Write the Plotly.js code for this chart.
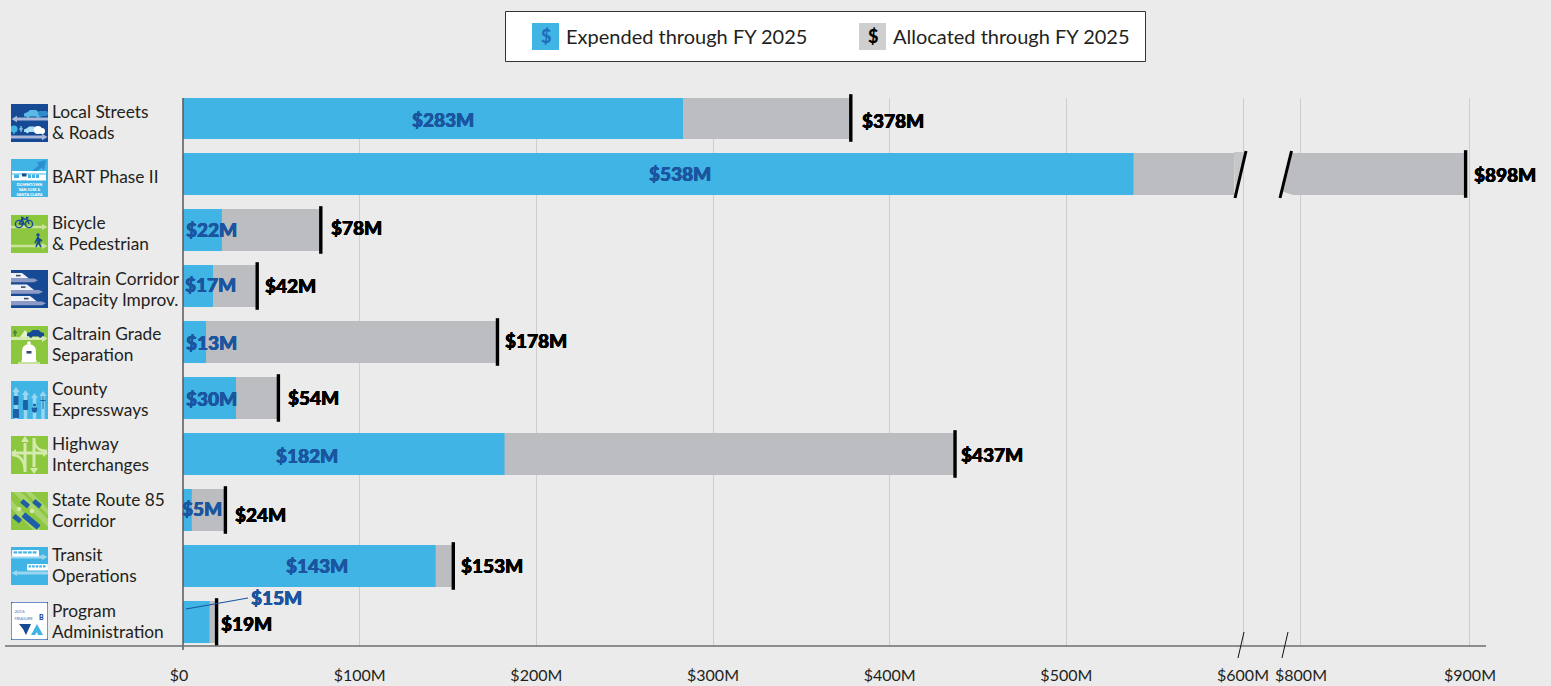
<!DOCTYPE html>
<html>
<head>
<meta charset="utf-8">
<script src="https://cdn.plot.ly/plotly-3.0.1.min.js"></script>
<style>html,body{margin:0;padding:0;background:#EBEBEB}#chart{width:1551px;height:686px}</style>
</head>
<body>
<div id="chart"></div>
<script>
// ---------- data ----------
const categories = ["Local Streets<br>& Roads","BART Phase II","Bicycle<br>& Pedestrian","Caltrain Corridor<br>Capacity Improv.","Caltrain Grade<br>Separation","County<br>Expressways","Highway<br>Interchanges","State Route 85<br>Corridor","Transit<br>Operations","Program<br>Administration"];
const expended = [283,538,22,17,13,30,182,5,143,15];
const allocated = [378,898,78,42,178,54,437,24,153,19];
const xTickValsLow = [0,100,200,300,400,500,600];
const xTickTextLow = ["$0\u00A0\u00A0","$100M","$200M","$300M","$400M","$500M","$600M"];
const xTickValsHigh = [800,900];
const xTickTextHigh = ["$800M","$900M"];
const legendLabels = ["Expended through FY 2025","Allocated through FY 2025"];

// ---------- layout constants ----------
const W=1551,H=686,L=183,R=1486,T=98,B=646;
const PW=R-L,PH=B-T;
const scaleLow=1060/600, scaleHigh=1.69;
const splitPx=1262;
const breakStart=595, breakResume=795;
const px=p=>(p-L)/PW, py=p=>1-(p-T)/PH;
const BLUE="#40B4E5",GRAY="#BCBDC0",DARK="#1B549F",FONT="Lato, 'Open Sans', sans-serif";
const expLabelDx=[10,22,9,12,17.5,1.5,-37,14.6,8,80];
const expLabelDy=[-2,0,0,1,-1,-1,-2,1,0,24];
const allocLabelDx=[9,6,8,6,6,8,4,8,6,2];
const allocLabelDy=[-3,-1,2,0,1,0,-1,-5,0,-2];
const catLabelDy=[-4,-3,-3,-3,-2,-1,0,0,1,1];
const iconTop=[104,159,215,270,326,381,436,492,547,602];
const catLineGap=10.3;

// ---------- icons (decorative pictograms) ----------
const svgUri=(bg,body,extra)=>"data:image/svg+xml;charset=utf-8,"+encodeURIComponent(
 `<svg xmlns="http://www.w3.org/2000/svg" width="148" height="152" viewBox="0 0 37 38"><rect width="37" height="38" fill="${bg}" ${extra||""}/>${body}</svg>`);
const arrowR=(y,c,h=4)=>`<path d="M0 ${y-h/2}H31V${y-h/2-1.6}L36.5 ${y}L31 ${y+h/2+1.6}V${y+h/2}H0Z" fill="${c}"/>`;
const arrowL=(y,c,h=4)=>`<path d="M37 ${y-h/2}H6V${y-h/2-1.6}L.5 ${y}L6 ${y+h/2+1.6}V${y+h/2}H37Z" fill="${c}"/>`;
const arrowU=(x,top,c,w=3)=>`<path d="M${x-w/2} 38V${top+5}H${x-w/2-1.8}L${x} ${top}L${x+w/2+1.8} ${top+5}H${x+w/2}V38Z" fill="${c}"/>`;
const car=(x,y,c,s=1)=>`<g transform="translate(${x} ${y}) scale(${s})" fill="${c}"><path d="M0 5Q0 3 3 3L6 .5H12L15 3Q18 3 18 5V7H0Z"/><circle cx="4" cy="7" r="1.6"/><circle cx="14" cy="7" r="1.6"/></g>`;
const bus=(x,y,c,w=26)=>{let s=`<rect x="${x}" y="${y}" width="${w}" height="6.5" rx="1" fill="#fff"/>`;for(let i=0;i<5;i++)s+=`<rect x="${x+1.5+i*(w-3)/5}" y="${y+1.3}" width="${(w-3)/5-1}" height="2.2" fill="${c}"/>`;return s;};
const train=(x,y,w)=>`<path d="M${x} ${y}H${x+w-7}L${x+w} ${y+5.4}H${x}Z" fill="#EEF1F8"/><rect x="${x+w-13}" y="${y+1.8}" width="4.5" height="1.6" fill="#3A4A6B"/><path d="M${x} ${y+5.4}H${x+w+5}L${x+w+9} ${y+7.3}L${x+w+5} ${y+9.2}H${x}Z" fill="#8E9BC7"/>`;
const icons=[
 svgUri("#174A94",arrowL(15,"#AAB7DA",3.2)+car(13,5.5,"#5CB8E6")+`<rect x="27" y="7" width="10" height="5" rx="2" fill="#2F8DCB"/>`+arrowR(33,"#AAB7DA",3.2)+`<circle cx="3" cy="25" r="3.6" fill="#40B4E5"/><rect x="2.3" y="25" width="1.4" height="5" fill="#40B4E5"/><path d="M10 22V28M8 25H12" stroke="#9BD6F0" stroke-width="1.2"/>`+car(13,22,"#AEDFF5",.85)+`<circle cx="27" cy="26" r="4" fill="#fff"/><circle cx="31" cy="27" r="3" fill="#fff"/>`),
 svgUri("#40B4E5",`<path d="M10 22L28 6L25.5 3.5L35 1L33 11L30.5 8.5L15 22Z" fill="#2C8FD2"/><rect x="1" y="12" width="34" height="9.5" fill="#fff"/><rect x="1" y="14.5" width="34" height="1" fill="#40B4E5"/><rect x="3" y="15.5" width="5" height="3.5" fill="#40B4E5"/><rect x="17" y="15.5" width="3" height="3.5" fill="#40B4E5"/><rect x="21" y="15.5" width="3" height="3.5" fill="#40B4E5"/><rect x="25" y="15.5" width="3" height="3.5" fill="#40B4E5"/><rect x="11" y="14.5" width="4.5" height="3" fill="#174A94"/><text x="18.5" y="27" text-anchor="middle" font-family="Lato,sans-serif" font-size="3.9" font-weight="900" fill="#fff">DOWNTOWN</text><text x="18.5" y="32" text-anchor="middle" font-family="Lato,sans-serif" font-size="3.9" font-weight="900" fill="#fff">SAN JOSE &amp;</text><text x="18.5" y="37" text-anchor="middle" font-family="Lato,sans-serif" font-size="3.9" font-weight="900" fill="#fff">SANTA CLARA</text>`),
 svgUri("#8DC63F",arrowR(12,"#C9E39B",2.6)+arrowR(31,"#C9E39B",2.6)+`<g fill="none" stroke="#174A94" stroke-width="1.4"><circle cx="8" cy="9" r="3.6"/><circle cx="18" cy="9" r="3.6"/><path d="M8 9L11 4H16L18 9M11 4L13 9H8M10 2.5H12.5M15 2.5H17.5"/></g><circle cx="27" cy="20" r="1.7" fill="#174A94"/><path d="M27 22L24 28M27 22L29 28M27 22V27L25 32M27 27L30 32M27 23L31 26" stroke="#174A94" stroke-width="1.6" fill="none"/>`),
 svgUri("#174A94",train(0,3,18)+train(0,14.5,23)+train(0,26,26)),
 svgUri("#8DC63F",`<path d="M0 11H31V9L36.5 12.5L31 16V14H0Z" fill="#D4EAAE"/><path d="M9 11L14 4L20 11Z" fill="#E3F1CB"/><path d="M4 4V10M2 6.5H6" stroke="#4F7A3F" stroke-width="1.5"/>`+car(16,3.5,"#174A94",.95)+`<path d="M11 36V25Q11 19 18 18Q25 19 25 25V36Z" fill="#fff"/><circle cx="18" cy="17" r="1.8" fill="#fff"/><rect x="15.5" y="25" width="5" height="2.6" fill="#3A4A6B"/><path d="M7 37H29M10 35H26" stroke="#fff"/>`),
 svgUri("#40B4E5",[arrowU(5,6,"#9BD6F0",3.4),arrowU(14.5,9,"#9BD6F0",3.4),arrowU(23.5,12,"#9BD6F0",3.4),arrowU(32,10,"#9BD6F0",3.4)].join("")+`<g fill="#1F5FA8"><rect x="2.5" y="15" width="5" height="9" rx="1"/><rect x="2" y="28" width="6" height="9" rx="1"/><rect x="12" y="19" width="5" height="10" rx="1"/></g><path d="M21 27H26L25 31H22Z M32 15V28M29.5 19.5H34.5" fill="#1F5FA8" stroke="#1F5FA8"/><circle cx="23.5" cy="24" r="1.6" fill="#1F5FA8"/>`),
 svgUri("#8DC63F",`<g stroke="#D4EAAE" fill="none"><path d="M14 7V36M23 2V31" stroke-width="3"/><path d="M1 17H36" stroke-width="3"/><path d="M1 19Q12 19 14 33M36 15Q25 15 23 5" stroke-width="2.4"/></g><path d="M14 0L18 6H10ZM23 38L19 32H27ZM0 17L5 13V21ZM37 17L32 13V21Z" fill="#D4EAAE"/>`),
 svgUri("#8DC63F",`<path d="M2 0H10L37 27V35ZM0 8L30 38H22L0 16Z" fill="#A9D46B"/><path d="M14 0H20L37 17V23Z" fill="#A9D46B"/><g fill="#1F5FA8"><rect x="10" y="9" width="9" height="5" rx="1" transform="rotate(40 14 11)"/><rect x="22" y="9" width="9" height="5" rx="1" transform="rotate(40 26 11)"/><rect x="2" y="24" width="9" height="5" rx="1" transform="rotate(40 6 26)"/><rect x="10" y="26" width="20" height="6" rx="1" transform="rotate(40 20 29)"/></g><circle cx="8" cy="17" r="2.2" fill="#D4EAAE"/><circle cx="21" cy="19" r="2.2" fill="#D4EAAE"/>`),
 svgUri("#40B4E5",arrowR(10,"#9BD6F0",3)+bus(1,3,"#40B4E5",27)+arrowL(26,"#9BD6F0",3)+bus(16,17,"#40B4E5",21)),
 svgUri("#fff",`<text x="3.5" y="11" font-family="Lato,sans-serif" font-size="4.4" fill="#3A78BE">2016</text><text x="3.5" y="17.5" font-family="Lato,sans-serif" font-size="3.9" fill="#3A78BE">MEASURE</text><text x="28" y="18" font-family="Lato,sans-serif" font-weight="900" font-size="7" fill="#174A94">B</text><path d="M8 22H20L15 33L12 27Z" fill="#174A94"/><path d="M20 33L26 22L32 33H27L26 30L24 33Z" fill="#40B4E5"/>`,'stroke="#3D6CB0" stroke-width="1.4" rx="2"')
];

// ---------- traces ----------
const lowIdx=allocated.map((v,i)=>i).filter(i=>allocated[i]<=600);
const highIdx=allocated.map((v,i)=>i).filter(i=>allocated[i]>600);
const barCommon={type:"bar",orientation:"h",width:.75,hoverinfo:"skip",showlegend:false,marker:{line:{width:0}}};
const tickMarker={type:"scatter",mode:"markers",hoverinfo:"skip",showlegend:false,cliponaxis:false,
  marker:{symbol:"line-ns",size:34,color:"#000",line:{color:"#000",width:3.4}}};
const data=[
 {...barCommon,name:"Allocated through FY 2025",x:allocated.map(v=>Math.min(v,breakStart)),y:categories,xaxis:"x",yaxis:"y",marker:{color:GRAY,line:{width:0}}},
 {...barCommon,name:"Allocated through FY 2025 (above break)",x:highIdx.map(i=>allocated[i]-breakResume),base:highIdx.map(()=>breakResume),y:highIdx.map(i=>categories[i]),xaxis:"x2",yaxis:"y",marker:{color:GRAY,line:{width:0}}},
 {...barCommon,name:"Expended through FY 2025",x:expended,y:categories,xaxis:"x",yaxis:"y",marker:{color:BLUE,line:{width:0}}},
 {...tickMarker,x:lowIdx.map(i=>allocated[i]),y:lowIdx.map(i=>categories[i]),xaxis:"x",yaxis:"y"},
 {...tickMarker,x:highIdx.map(i=>allocated[i]),y:highIdx.map(i=>categories[i]),xaxis:"x2",yaxis:"y"}
];

// ---------- annotations ----------
const heavy=c=>`0.35px 0 0 ${c}, -0.35px 0 0 ${c}, 0 0.25px 0 ${c}`;
const ann=[];
categories.forEach((c,i)=>{
 const lines=c.split("<br>");
 lines.forEach((t,k)=>{
  const off=lines.length===1?0:(k===0?catLineGap:-catLineGap);
  ann.push({text:t,xref:"paper",yref:"y",x:px(50),y:c,xanchor:"left",yanchor:"middle",align:"left",showarrow:false,yshift:catLabelDy[i]+off,
    font:{family:FONT,size:17.3,color:"#231F20"}});
 });
 ann.push({text:"$"+expended[i]+"M",xref:"x",yref:"y",x:expended[i]/2,y:c,xanchor:"center",yanchor:"middle",showarrow:false,xshift:expLabelDx[i],yshift:expLabelDy[i],
   font:{family:FONT,size:19,color:DARK,weight:900,shadow:heavy(DARK)}});
 ann.push({text:"$"+allocated[i]+"M",xref:allocated[i]>600?"x2":"x",yref:"y",x:allocated[i],y:c,xanchor:"left",yanchor:"middle",showarrow:false,xshift:allocLabelDx[i],yshift:allocLabelDy[i],
   font:{family:FONT,size:19,color:"#000",weight:900,shadow:heavy("#000")}});
});
const legendAnn=(x,t)=>({text:t,xref:"paper",yref:"paper",x:px(x),y:py(36),xanchor:"left",yanchor:"middle",showarrow:false,font:{family:FONT,size:20,color:"#231F20"}});
const dollarAnn=(x,c)=>({text:"$",xref:"paper",yref:"paper",x:px(x),y:py(36),xanchor:"center",yanchor:"middle",showarrow:false,font:{family:FONT,size:18,color:c,weight:900}});
ann.push(legendAnn(564,legendLabels[0]),legendAnn(891,legendLabels[1]),dollarAnn(545.5,"#1F6FB8"),dollarAnn(872.5,"#000"));

// ---------- shapes ----------
const paperRect=(x0,y0,x1,y1,fill,line)=>({type:"rect",xref:"paper",yref:"paper",x0:px(x0),x1:px(x1),y0:py(y0),y1:py(y1),fillcolor:fill,line:line||{width:0},layer:"above"});
const paperLine=(x0,y0,x1,y1,color,width)=>({type:"line",xref:"paper",yref:"paper",x0:px(x0),x1:px(x1),y0:py(y0),y1:py(y1),line:{color,width},layer:"above"});
const paperPoly=(pts,fill)=>({type:"path",xref:"paper",yref:"paper",path:"M"+pts.map(p=>px(p[0])+","+py(p[1])).join("L")+"Z",fillcolor:fill,line:{width:0},layer:"below"});
const shapes=[
 paperRect(505.5,11.5,1145.5,61.5,"#fff",{color:"#333",width:1}),
 paperRect(532,23,559,50,BLUE),
 paperRect(859,23,886,50,"#CFCFCF"),
 paperLine(183,98,183,650,"#58595B",1.5),
 paperLine(5,646,1486,646,"#6D6E71",1.5),
 paperPoly([[1234,152],[1245,152],[1235,194]],"#C6C7C9"),
 paperPoly([[1293,152],[1281,191],[1290,194],[1293,194]],GRAY),
 // bar-break slashes
 paperLine(1246,151,1235,198,"#000",3),
 paperLine(1291.5,151,1280,198,"#000",3),
 // axis-break slashes
 paperLine(1244,632,1238,658,"#111",1),
 paperLine(1288,632,1282,658,"#111",1),
 // leader for the Program Administration expended value
 paperLine(186,609,248,598,DARK,1.2)
];

const images=icons.map((src,i)=>({source:src,xref:"paper",yref:"paper",x:px(11),y:py(iconTop[i]),sizex:37/PW,sizey:38/PH,xanchor:"left",yanchor:"top",sizing:"stretch",layer:"above"}));

const axisCommon={showline:false,zeroline:false,showgrid:true,gridcolor:"#CDCDCD",gridwidth:1,ticks:"",tickmode:"array",fixedrange:true,
 tickfont:{family:FONT,size:16,color:"#231F20"},ticklabelstandoff:18,anchor:"y"};
const layout={
 width:W,height:H,paper_bgcolor:"#EBEBEB",plot_bgcolor:"#EBEBEB",showlegend:false,barmode:"overlay",
 margin:{l:L,r:W-R,t:T,b:H-B,pad:0},
 font:{family:FONT},
 xaxis:{...axisCommon,ticklabelshift:0,domain:[0,(splitPx-L)/PW],range:[0,(splitPx-L)/scaleLow],tickvals:xTickValsLow,ticktext:xTickTextLow},
 xaxis2:{...axisCommon,ticklabelshift:1,domain:[(splitPx-L)/PW,1],range:[800-(1300-splitPx)/scaleHigh,800+(R-1300)/scaleHigh],tickvals:xTickValsHigh,ticktext:xTickTextHigh},
 yaxis:{type:"category",categoryorder:"array",categoryarray:categories,range:[9.429,-0.357],showticklabels:false,showgrid:false,zeroline:false,showline:false,ticks:"",fixedrange:true,anchor:"x"},
 annotations:ann,shapes,images
};
Plotly.newPlot("chart",data,layout,{displayModeBar:false,staticPlot:true});
</script>
</body>
</html>
